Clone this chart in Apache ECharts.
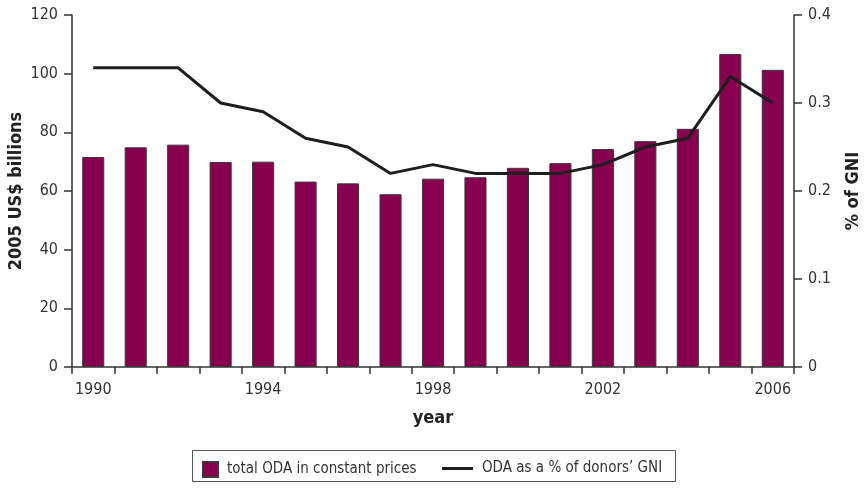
<!DOCTYPE html>
<html><head><meta charset="utf-8">
<script src="https://cdn.jsdelivr.net/npm/echarts@6/dist/echarts.min.js"></script>
<style>html,body{margin:0;padding:0;background:#fff}#c{width:864px;height:488px}</style>
</head><body><div id="c"></div>
<script>
var years = ['1990','1991','1992','1993','1994','1995','1996','1997','1998','1999','2000','2001','2002','2003','2004','2005','2006'];
var odaTotal = [71.6, 74.9, 75.8, 69.9, 70.0, 63.2, 62.6, 58.9, 64.2, 64.7, 67.9, 69.5, 74.3, 77.0, 81.2, 106.7, 101.3];
var odaGni = [0.34, 0.34, 0.34, 0.30, 0.29, 0.26, 0.25, 0.22, 0.23, 0.22, 0.22, 0.22, 0.23, 0.25, 0.26, 0.33, 0.30];
var leftTicks = [0, 20, 40, 60, 80, 100, 120];
var rightTicks = [0, 0.1, 0.2, 0.3, 0.4];

var FONT = "'Liberation Sans Narrow', 'DejaVu Sans Condensed', 'Roboto Condensed', sans-serif";
var chart = echarts.init(document.getElementById('c'), null, {renderer:'canvas'});
var axisLineStyle = {color:'#333', width:1.5};
chart.setOption({
  animation:false,
  textStyle:{fontFamily:FONT},
  grid:{left:72, right:70, top:15, bottom:121, containLabel:false, outerBoundsMode:'none'},
  legend:[
    {left:202, top:461, padding:0, itemWidth:15, itemHeight:15, itemGap:11,
     textStyle:{fontFamily:FONT, fontSize:15, color:'#333', padding:[0,0,0,4]},
     data:[{name:'total ODA in constant prices', icon:'rect'}]},
    {left:442, top:461, padding:0, itemWidth:31, itemHeight:3, itemGap:10,
     textStyle:{fontFamily:FONT, fontSize:15, color:'#333', padding:[0,0,0,4]},
     data:[{name:'ODA as a % of donors\u2019 GNI', icon:'rect'}]}
  ],
  graphic:[{type:'rect', shape:{x:192.5, y:450.5, width:483, height:31},
    style:{fill:'none', stroke:'#555', lineWidth:1}, z:-1}],
  xAxis:{
    type:'category', data:years, boundaryGap:true,
    name:'year', nameLocation:'middle', nameGap:42,
    nameTextStyle:{fontFamily:FONT, fontSize:18, fontWeight:'bold', color:'#222'},
    axisLine:{lineStyle:axisLineStyle},
    axisTick:{show:true, interval:0, length:7, lineStyle:{color:'#333', width:1.5}},
    axisLabel:{interval:3, margin:15, fontSize:16, color:'#333', fontFamily:FONT}
  },
  yAxis:[
    {type:'value', min:0, max:120, interval:20, position:'left',
     name:'2005 US$ billions', nameLocation:'middle', nameGap:47, nameRotate:90, nameMoveOverlap:false,
     nameTextStyle:{fontFamily:FONT, fontSize:18, fontWeight:'bold', color:'#222'},
     axisLine:{show:true, lineStyle:axisLineStyle},
     axisTick:{show:true, length:8, lineStyle:{color:'#333', width:1.5}},
     axisLabel:{margin:14, fontSize:16, color:'#333', fontFamily:FONT,
       formatter:function(v){return leftTicks.indexOf(v)>=0 ? String(v) : '';}},
     splitLine:{show:false}},
    {type:'value', min:0, max:0.4, interval:0.1, position:'right',
     name:'% of GNI', nameLocation:'middle', nameGap:50, nameRotate:90,
     nameTextStyle:{fontFamily:FONT, fontSize:18, fontWeight:'bold', color:'#222'},
     axisLine:{show:true, lineStyle:axisLineStyle},
     axisTick:{show:true, length:8, lineStyle:{color:'#333', width:1.5}},
     axisLabel:{margin:14, fontSize:16, color:'#333', fontFamily:FONT,
       formatter:function(v){var r=Math.round(v*10)/10; return rightTicks.indexOf(r)>=0 ? (r===0?'0':r.toFixed(1)) : '';}},
     splitLine:{show:false}}
  ],
  series:[
    {name:'total ODA in constant prices', type:'bar', yAxisIndex:0, data:odaTotal,
     barWidth:'52%', itemStyle:{color:'#87004f', borderColor:'#3a3a3a', borderWidth:1}},
    {name:'ODA as a % of donors\u2019 GNI', type:'line', yAxisIndex:1, data:odaGni,
     showSymbol:false, symbol:'none', lineStyle:{color:'#1e1e1e', width:3}, itemStyle:{color:'#1e1e1e'}}
  ]
});
</script></body></html>
